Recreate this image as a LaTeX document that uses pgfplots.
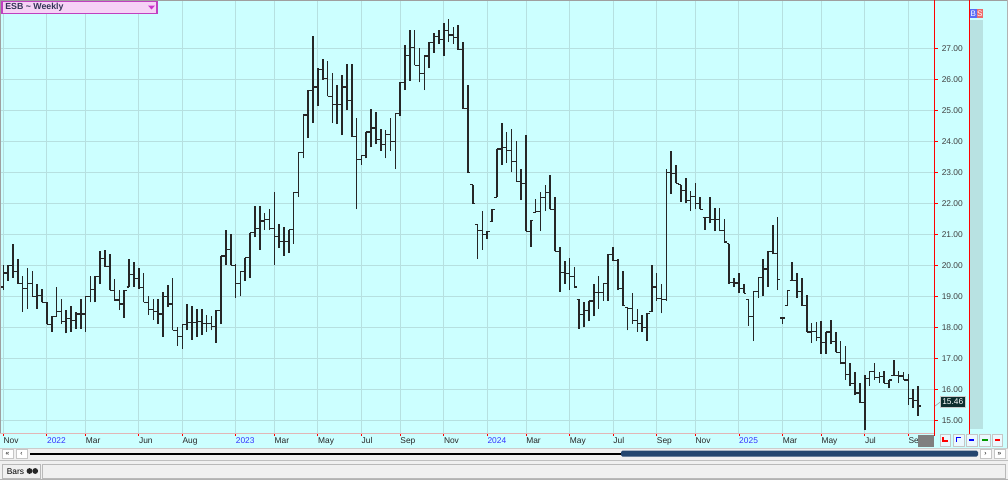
\documentclass[border=0pt]{standalone}
\usepackage{pgfplots}
\pgfplotsset{compat=1.18}
\usepackage{pgfplotstable}
\usepackage{fontspec}
\setmainfont{Liberation Sans}
\definecolor{bgc}{HTML}{CCFFFF}
\definecolor{gridc}{HTML}{B6E0E0}
\definecolor{barc}{HTML}{262626}
\definecolor{yrc}{HTML}{3333FF}
\definecolor{ylab}{HTML}{404040}
\definecolor{pinkline}{HTML}{E2B6B6}
\definecolor{colc}{HTML}{B8E2E2}
\definecolor{panel}{HTML}{F0F0F0}
\definecolor{navy}{HTML}{24466F}
\definecolor{esbbg}{HTML}{F6D2F6}
\definecolor{esbbd}{HTML}{C040C0}
\definecolor{esbtx}{HTML}{333355}
\definecolor{bblue}{HTML}{5A6BF5}
\definecolor{sred}{HTML}{EE6A6A}
\definecolor{lastbg}{HTML}{0E2E2E}
\definecolor{dgray}{HTML}{7F7F7F}
\pgfdeclareplotmark{otick}{\pgfpathmoveto{\pgfqpoint{-1.9pt}{0pt}}\pgfpathlineto{\pgfqpoint{0pt}{0pt}}\pgfusepathqstroke}
\pgfdeclareplotmark{ctick}{\pgfpathmoveto{\pgfqpoint{0pt}{0pt}}\pgfpathlineto{\pgfqpoint{1.9pt}{0pt}}\pgfusepathqstroke}
\pgfplotstableread{
i o h l c
1 19.3 20.0 19.2 19.75
2 19.75 20.0 19.5 20.0
3 20.0 20.7 19.6 19.8
4 19.8 20.2 19.4 19.4
5 19.4 19.65 18.5 19.25
6 19.25 19.9 18.6 19.4
7 19.4 19.8 19.0 19.0
8 19.0 19.4 18.6 19.03
9 19.03 19.25 18.8 18.8
10 18.8 18.8 18.1 18.1
11 18.1 18.35 17.85 18.35
12 18.35 19.3 18.35 18.5
13 18.5 18.9 18.1 18.18
14 18.18 18.55 17.8 18.28
15 18.28 18.7 17.85 18.23
16 18.23 18.5 17.95 18.43
17 18.43 18.9 17.95 18.43
18 18.43 19.0 17.85 19.0
19 19.0 19.65 18.8 19.23
20 19.23 19.65 18.8 19.65
21 19.65 20.45 19.4 20.23
22 20.23 20.5 19.95 19.95
23 19.95 20.35 19.2 19.2
24 19.2 19.55 18.85 18.88
25 18.88 19.2 18.55 18.75
26 18.75 19.2 18.3 19.2
27 19.3 20.2 19.3 19.7
28 19.7 20.1 19.3 19.58
29 19.58 19.9 19.25 19.28
30 19.28 19.75 18.8 18.8
31 18.8 19.0 18.4 18.58
32 18.58 18.9 18.25 18.5
33 18.5 18.9 18.1 18.43
34 18.43 19.15 17.7 19.0
35 19.0 19.35 18.65 18.75
36 18.75 19.6 17.9 17.9
37 17.9 18.0 17.4 17.7
38 17.7 18.1 17.3 18.1
39 18.1 18.75 17.9 18.15
40 18.15 18.7 17.6 18.15
41 18.15 18.6 17.7 18.18
42 18.18 18.6 17.75 18.13
43 18.13 18.4 17.85 18.13
44 18.13 18.35 17.9 18.03
45 18.03 18.55 17.5 18.55
46 18.55 20.3 18.1 20.3
47 20.3 21.15 20.0 20.5
48 20.5 21.0 20.0 20.0
49 20.0 20.05 18.95 19.4
50 19.4 19.8 19.0 19.8
51 19.8 20.25 19.5 20.25
52 20.25 21.05 19.6 21.05
53 21.05 21.9 20.9 21.2
54 21.2 21.9 20.5 21.43
55 21.43 21.7 21.15 21.48
56 21.48 21.8 21.15 21.18
57 21.18 22.35 20.0 20.94
58 20.94 21.33 20.55 20.78
59 20.78 21.25 20.3 20.78
60 20.78 21.15 20.4 21.15
61 21.15 22.35 20.7 22.35
62 22.35 23.65 22.2 23.65
63 23.65 24.85 23.45 24.85
64 24.85 25.65 24.1 25.65
65 25.65 27.4 24.6 25.75
66 25.75 26.35 25.15 26.32
67 26.32 26.65 25.98 26.03
68 26.03 26.6 25.45 25.45
69 25.45 26.2 24.6 25.18
70 25.18 25.8 24.55 25.18
71 25.18 26.15 24.2 25.75
72 25.75 26.5 25.0 25.33
73 25.33 26.5 24.15 24.15
74 24.15 24.75 21.8 23.4
75 23.4 23.55 23.25 23.55
76 23.55 24.3 23.45 24.3
77 24.3 25.05 23.8 24.43
78 24.43 24.95 23.9 24.05
79 24.05 24.4 23.7 23.9
80 23.9 24.35 23.45 24.23
81 24.23 24.75 23.7 24.0
82 24.0 24.9 23.1 24.9
83 24.9 25.9 24.8 25.9
84 25.9 27.1 25.65 26.78
85 26.78 27.6 25.95 27.03
86 27.03 27.6 26.45 26.45
87 26.45 27.0 25.9 26.2
88 26.2 26.75 25.65 26.75
89 26.75 27.2 26.35 27.18
90 27.18 27.5 26.85 27.38
91 27.38 27.6 27.15 27.28
92 27.28 27.8 26.75 27.58
93 27.58 27.95 27.2 27.43
94 27.43 27.7 27.15 27.35
95 27.35 27.75 26.95 26.95
96 26.95 27.2 25.05 25.05
97 25.05 25.8 22.99 22.99
98 22.6 22.6 21.98 21.98
99 21.33 21.33 20.2 21.13
100 21.13 21.75 20.5 20.98
101 20.98 21.1 20.85 21.1
102 21.4 21.8 21.4 21.8
103 22.2 23.75 22.2 23.75
104 23.75 24.6 23.25 23.8
105 23.8 24.3 23.3 23.7
106 23.7 24.4 23.0 23.35
107 23.35 24.0 22.7 22.7
108 22.7 23.1 22.1 22.65
109 22.65 24.2 21.1 21.1
110 21.1 21.45 20.6 21.45
111 21.7 22.15 21.7 21.73
112 21.73 22.35 21.1 22.18
113 22.18 22.6 21.75 22.35
114 22.35 22.9 21.8 21.8
115 21.8 22.2 20.45 20.45
116 20.45 20.6 19.15 19.78
117 19.78 20.15 19.4 19.73
118 19.73 20.25 19.2 19.63
119 19.63 19.95 19.3 19.3
120 18.9 18.9 17.95 18.4
121 18.4 18.8 18.0 18.53
122 18.53 18.85 18.2 18.85
123 18.85 19.4 18.35 19.13
124 19.13 19.65 18.6 19.13
125 19.13 19.4 18.85 19.4
126 19.4 20.35 18.85 20.35
127 20.35 20.6 20.15 20.15
128 20.15 20.2 19.2 19.25
129 19.25 19.8 18.7 18.7
130 18.65 18.65 17.9 18.6
131 18.6 19.1 18.1 18.23
132 18.23 18.6 17.85 18.13
133 18.13 18.4 17.85 18.0
134 18.0 18.45 17.55 18.45
135 18.5 20.0 18.5 19.3
136 19.3 19.75 18.85 18.93
137 18.93 19.4 18.45 18.9
138 18.9 23.1 18.85 23.0
139 23.0 23.7 22.3 22.95
140 22.95 23.25 22.65 22.65
141 22.6 22.6 22.05 22.4
142 22.4 22.8 22.0 22.08
143 22.08 22.4 21.75 22.23
144 22.23 22.65 21.8 22.0
145 22.0 22.2 21.8 21.8
146 21.55 21.55 21.15 21.55
147 21.55 22.2 21.35 21.48
148 21.48 21.85 21.1 21.48
149 21.48 21.85 21.1 21.13
150 21.13 21.5 20.75 20.75
151 20.7 20.7 19.4 19.45
152 19.45 19.6 19.3 19.43
153 19.43 19.75 19.1 19.25
154 19.25 19.4 19.1 19.1
155 18.9 18.9 18.05 18.35
156 18.35 19.15 17.55 19.15
157 19.15 19.6 18.95 19.6
158 19.6 20.2 19.0 19.88
159 19.88 20.45 19.3 20.45
160 20.45 21.3 20.35 20.38
161 20.38 21.55 19.2 19.55
162 18.3 18.3 18.1 18.3
163 18.7 19.2 18.7 19.2
164 19.5 20.1 19.5 19.5
165 19.5 19.75 18.95 19.15
166 19.15 19.6 18.7 18.7
167 18.7 19.05 17.85 17.85
168 17.85 18.15 17.5 17.87
169 17.87 18.18 17.55 17.68
170 17.68 18.2 17.15 17.5
171 17.5 17.85 17.15 17.85
172 17.85 18.25 17.45 17.53
173 17.53 17.85 17.2 17.2
174 17.2 17.55 16.8 16.85
175 16.85 17.4 16.3 16.48
176 16.48 16.85 16.1 16.18
177 16.18 16.55 15.8 15.88
178 15.88 16.2 15.55 15.58
179 15.58 16.45 14.7 16.35
180 16.35 16.6 16.1 16.58
181 16.58 16.85 16.3 16.38
182 16.38 16.55 16.2 16.4
183 16.4 16.6 16.2 16.2
184 16.2 16.3 16.03 16.3
185 16.45 16.95 16.45 16.45
186 16.45 16.6 16.2 16.43
187 16.43 16.55 16.3 16.3
188 16.3 16.5 15.5 15.7
189 15.7 16.0 15.4 15.63
190 15.63 16.1 15.15 15.46
}\ohlc
\newcommand{\sm}{\fontsize{6.3}{7}\selectfont}
\begin{document}
\begin{tikzpicture}
\useasboundingbox (0,0) rectangle (756pt,360pt);
\begin{scope}[x=0.75pt,y=-0.75pt,shift={(0pt,360pt)}]
  \fill[bgc] (0,0) rectangle (1008,448);
  \fill[colc] (970,20) rectangle (983,429);
\end{scope}
\begin{axis}[
  at={(0pt,360pt)}, anchor=north west,
  scale only axis, width=700.875pt, height=324.75pt,
  xmin=0.318, xmax=193.4, ymin=14.59, ymax=28.558,
  axis line style={draw=none},
  tick align=outside, major tick length=2.25pt,
  major tick style={red, line width=0.6pt},
  xtick pos=bottom, ytick pos=right,
  grid=major, major grid style={draw=gridc, line width=0.75pt},
  xtick={1,10,18,29,38,49,57,66,75,83,92,101,109,118,127,136,144,153,162,170,179,188},
  xticklabels={Nov,{\textcolor{yrc}{2022}},Mar,Jun,Aug,{\textcolor{yrc}{2023}},Mar,May,Jul,Sep,Nov,{\textcolor{yrc}{2024}},Mar,May,Jul,Sep,Nov,{\textcolor{yrc}{2025}},Mar,May,Jul,Sep},
  ytick={15,16,...,27},
  yticklabel pos=right,
  tick label style={font=\sm},
  xticklabel style={anchor=north west, inner sep=0pt, text=black!85, yshift=-1pt},
  yticklabel style={anchor=west, inner sep=0pt, text=ylab, xshift=3pt},
  /pgf/number format/.cd, fixed, fixed zerofill, precision=2, assume math mode=true,
]
\addplot[draw=none, mark=none,
  error bars/.cd, y dir=plus, y explicit, error mark=none,
  error bar style={draw=barc, line width=1.2pt, line cap=butt}]
  table[x=i, y=l, y error plus expr=\thisrow{h}-\thisrow{l}] {\ohlc};
\addplot[only marks, mark=otick, mark options={draw=barc, line width=0.85pt, line cap=butt}] table[x=i, y=o] {\ohlc};
\addplot[only marks, mark=ctick, mark options={draw=barc, line width=0.85pt, line cap=butt}] table[x=i, y=c] {\ohlc};
\end{axis}
\begin{scope}[x=0.75pt,y=-0.75pt,shift={(0pt,360pt)}]
  % borders
  \draw[gray!75, line width=0.8pt] (0,0.5) -- (1008,0.5);
  \draw[gray!75, line width=0.8pt] (0.5,0) -- (0.5,433);
  \draw[pinkline, line width=1.3pt] (0,433.5) -- (934.5,433.5);
  \draw[red, line width=0.8pt] (934.5,0) -- (934.5,436);
  \draw[red, line width=0.8pt] (969.6,0) -- (969.6,436);
  \draw[gray!60, line width=0.8pt] (1007.3,0) -- (1007.3,448);
  % ESB label
  \draw[esbbd, fill=esbbg, line width=0.8pt] (2,1.5) rectangle (157,13.5);
  \node[anchor=west, inner sep=0pt, text=esbtx, font=\fontsize{6.6}{7}\selectfont\bfseries] at (5,7.6) {ESB \textasciitilde{} Weekly};
  \fill[esbbd!80!magenta] (148,5.5) -- (155,5.5) -- (151.5,9.5) -- cycle;
  % BS
  \fill[bblue] (970,9) rectangle (976.5,18);
  \fill[sred] (976.5,9) rectangle (983,18);
  \node[inner sep=0pt, text=white, font=\fontsize{6}{7}\selectfont] at (973.3,13.6) {B};
  \node[inner sep=0pt, text=white, font=\fontsize{6}{7}\selectfont] at (979.8,13.6) {S};
  % last price
  \draw[gray!70, line width=0.5pt] (935,406) -- (940.7,401.7);
  \draw[gray!40, fill=lastbg, line width=0.5pt] (940.5,396.5) rectangle (965,407);
  \node[inner sep=0pt, text=white, font=\sm] at (952.8,401.8) {15.46};
  % bottom right dark box and buttons
  \fill[dgray] (918,434.5) rectangle (934,446.5);
  \foreach \a/\b in {940/950.5, 953.3/964, 966/977, 979/990.7, 992/1002.7}{
    \draw[gray!45, fill=white!92!cyan, line width=0.5pt] (\a,434.5) rectangle (\b,446);
  }
  \draw[red, line width=0.8pt] (943,437) -- (943,441) -- (947.5,441);
  \draw[blue, line width=0.8pt] (956.5,441.5) -- (956.5,437.5) -- (961,437.5);
  \draw[blue, line width=1pt] (969,440) -- (974,440);
  \draw[green!60!black, line width=1pt] (982,440) -- (988,440);
  \draw[red, line width=1pt] (995,440) -- (1000,440);
  % scrollbar and panel
  \fill[panel] (0,448) rectangle (1008,480);
  \draw[gray!40, line width=0.5pt] (0,448.3) -- (1008,448.3);
  \foreach \a/\t in {2/\guillemotleft, 16/\guilsinglleft}{
    \draw[gray!45, fill=white, line width=0.5pt] (\a,449.5) rectangle ({\a+11},458.5);
    \node[inner sep=0pt, font=\fontsize{5}{5}\selectfont] at ({\a+5.5},454) {\t};
  }
  \foreach \a/\t in {980/\guilsinglright, 994/\guillemotright}{
    \draw[gray!45, fill=white, line width=0.5pt] (\a,449.5) rectangle ({\a+11},458.5);
    \node[inner sep=0pt, font=\fontsize{5}{5}\selectfont] at ({\a+5.5},454) {\t};
  }
  \draw[black, line width=1.5pt] (30,453.5) -- (622,453.5);
  \fill[navy, rounded corners=1pt] (621,450.7) rectangle (978,456.5);
  \draw[gray!50, line width=0.5pt] (0,460.5) -- (1008,460.5);
  \draw[gray!55, fill=panel, line width=0.6pt] (2.5,464) rectangle (40.5,478);
  \node[anchor=west, inner sep=0pt, font=\sm] at (6.5,471.2) {Bars};
  \fill[black!85] (29.5,471) circle (2.9);
  \fill[black!85] (35.2,471) circle (2.9);
  \draw[gray!55, line width=0.6pt] (42.5,464) rectangle (1005.5,478);
  \draw[gray!60, line width=0.6pt] (0,479.6) -- (1008,479.6);
\end{scope}
\end{tikzpicture}
\end{document}
